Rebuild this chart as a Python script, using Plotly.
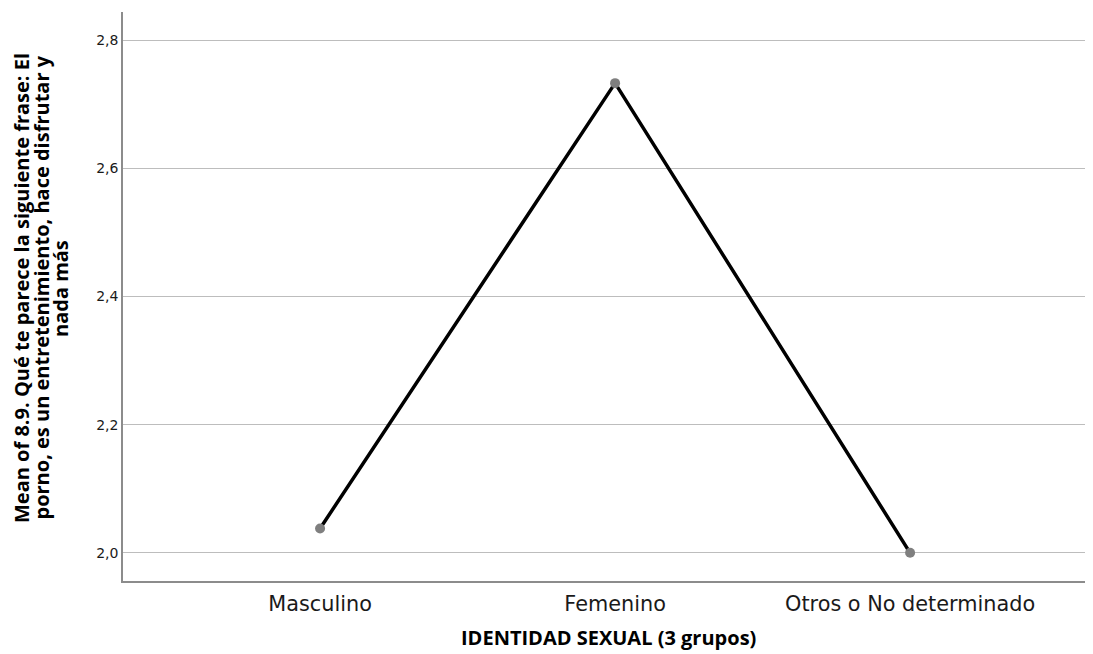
import plotly.graph_objects as go

categories = ["Masculino", "Femenino", "Otros o No determinado"]
means = [2.038, 2.733, 2.0]
y_ticks = [2.0, 2.2, 2.4, 2.6, 2.8]
y_tick_labels = ["2,0", "2,2", "2,4", "2,6", "2,8"]
y_title_lines = [
    "Mean of 8.9. Qué te parece la siguiente frase: El",
    "porno, es un entretenimiento, hace disfrutar y",
    "nada más",
]
x_title = "IDENTIDAD SEXUAL (3 grupos)"

# page body has an 8px margin; figure coords are offset accordingly
W, H = 1085, 646
L, R, T, B = 115, 0, 4, 73
PW, PH = W - L - R, H - T - B
xpos = list(range(len(categories)))

fig = go.Figure()
fig.add_trace(go.Scatter(
    x=xpos, y=means, mode="lines+markers",
    line=dict(color="black", width=3.5),
    marker=dict(color="#7f7f7f", size=10),
    showlegend=False, hoverinfo="skip",
))

fig.update_layout(
    width=W, height=H,
    margin=dict(l=L, r=R, t=T, b=B, autoexpand=False),
    paper_bgcolor="white", plot_bgcolor="white",
    font=dict(family="DejaVu Sans", color="black"),
    xaxis=dict(
        range=[-0.668, 2.62], tickmode="array", tickvals=xpos, ticktext=categories,
        showgrid=False, zeroline=False, showline=True, linecolor="#8c8c8c", linewidth=1.5,
        ticks="", tickfont=dict(size=20.8, family="DejaVu Sans", color="#1a1a1a"),
        ticklabelstandoff=3, automargin=False,
    ),
    yaxis=dict(
        range=[1.956, 2.844], tickmode="array", tickvals=y_ticks, ticktext=y_tick_labels,
        showgrid=True, gridcolor="#bdbdbd", gridwidth=1, zeroline=False,
        showline=True, linecolor="#8c8c8c", linewidth=1.5, ticks="",
        tickfont=dict(size=14, family="DejaVu Sans", color="#1a1a1a"),
        automargin=False,
    ),
)

fig.add_annotation(
    text=x_title, xref="paper", yref="paper",
    x=0.5, y=-56 / PH, xanchor="center", yanchor="middle",
    showarrow=False, font=dict(size=20, family="Open Sans", color="black", weight="bold"),
)
for i, line in enumerate(y_title_lines):
    xc = 13 + 19.5 * i
    fig.add_annotation(
        text=line, xref="paper", yref="paper", x=(xc - L) / PW, y=1 - (280 - T) / PH,
        textangle=-90, xanchor="center", yanchor="middle", showarrow=False,
        font=dict(size=20, family="Open Sans", color="black", weight="bold"),
    )

fig.write_html("out.html")
